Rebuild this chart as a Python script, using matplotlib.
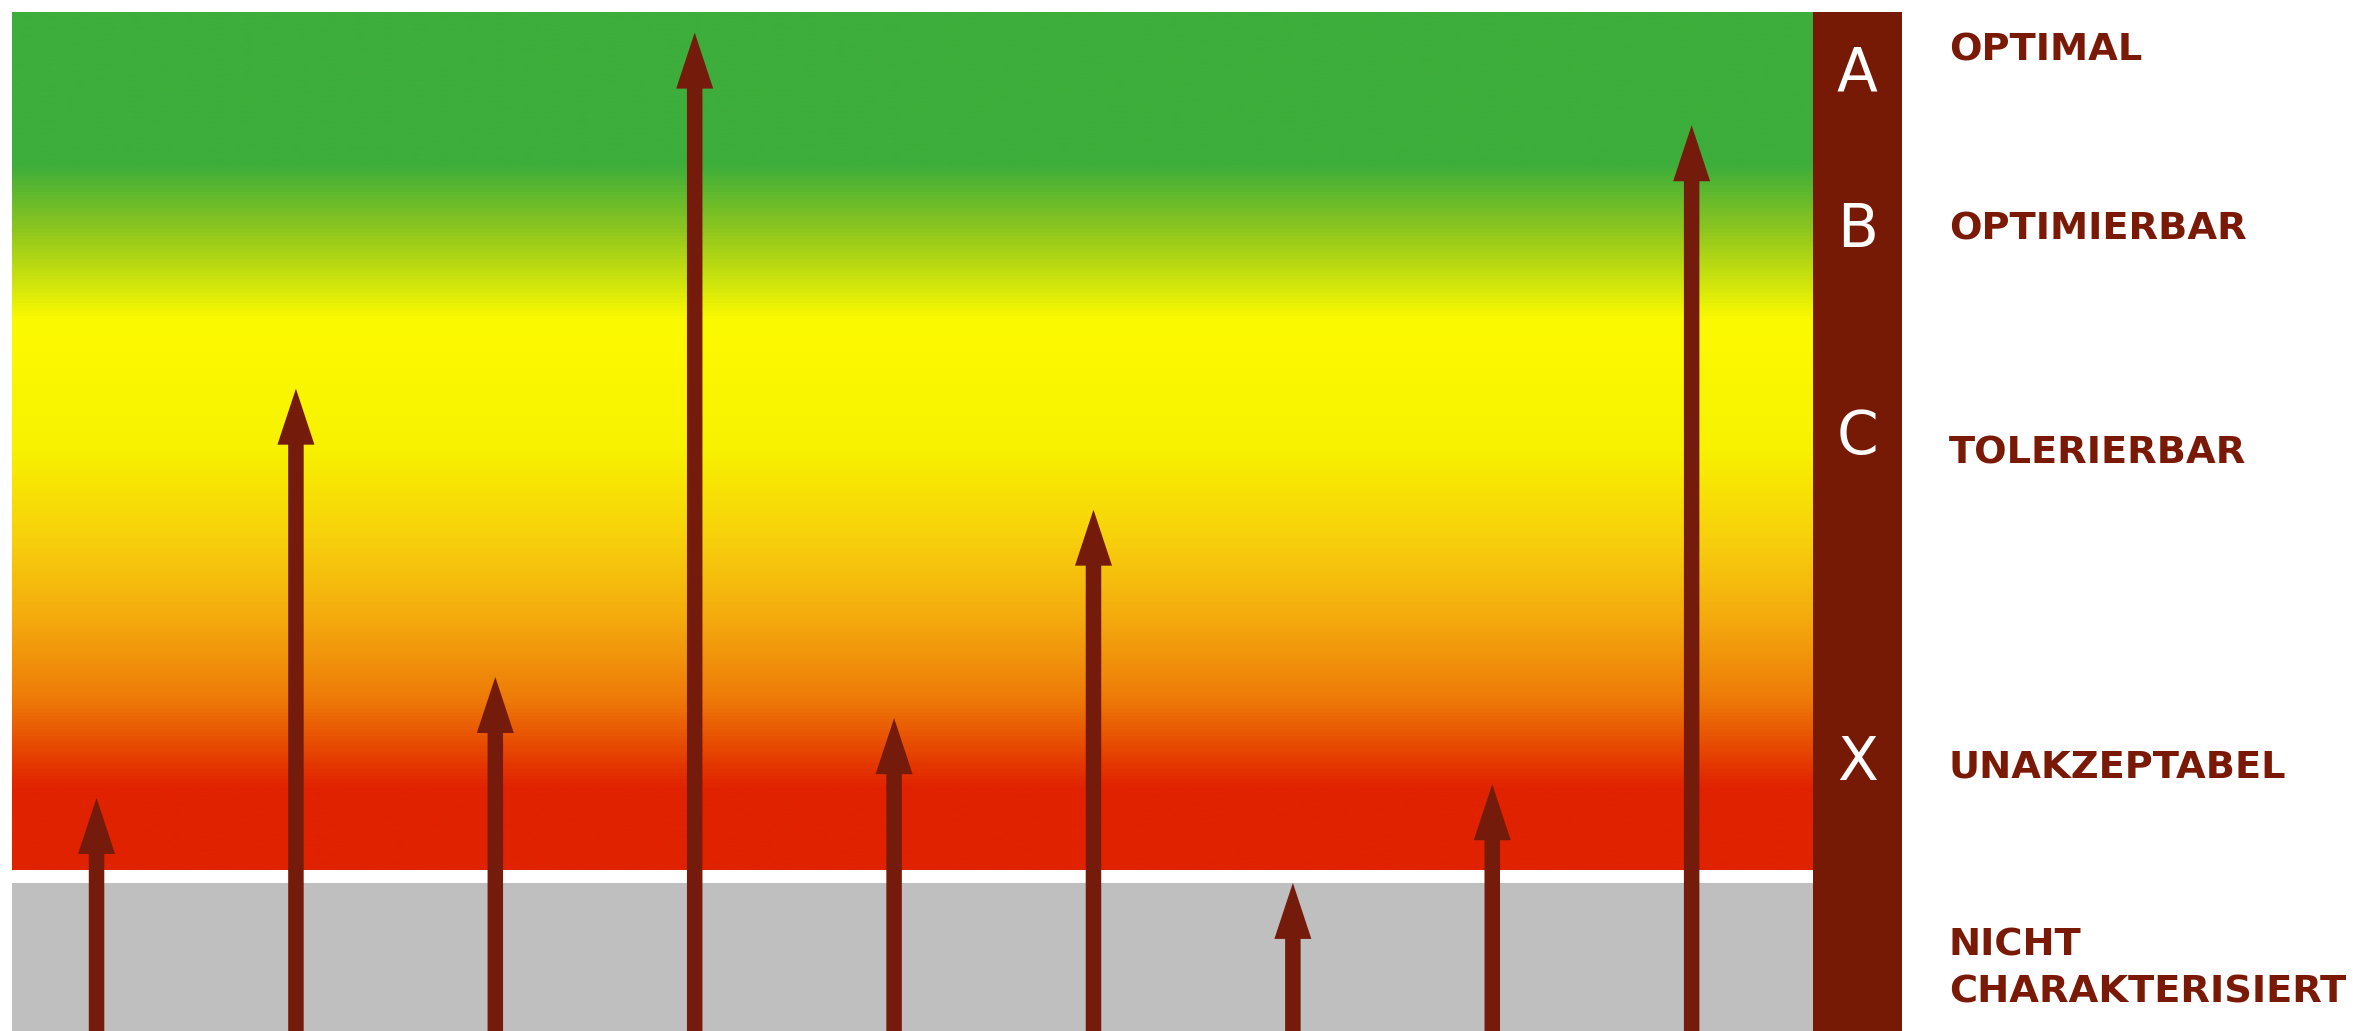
import numpy as np
import matplotlib
matplotlib.use("Agg")
import matplotlib.pyplot as plt
from matplotlib.colors import LinearSegmentedColormap
from matplotlib.patches import Rectangle, FancyArrowPatch, ArrowStyle

# ---------------- data ----------------
items = list(range(9))                       # arrow positions (categories)
scores = [8.4, 56.1, 22.5, 97.6, 17.7, 42.0, -1.5, 10.0, 86.8]   # arrow tip values
grades = ["A", "B", "C", "X"]
grade_baselines = [90.9, 72.6, 48.5, 10.5]
labels = ["OPTIMAL", "OPTIMIERBAR", "TOLERIERBAR", "UNAKZEPTABEL", "NICHT", "CHARAKTERISIERT"]
label_baselines = [94.3, 73.5, 47.4, 10.8, -10.0, -15.4]

# ---------------- style ----------------
W, H, DPI = 2354, 1031, 100
XL, XR = -0.424, 9.055          # data x-limits
GRAD_R = 8.608                  # right edge of gradient / left edge of bar
YB, YT = -18.76, 100.0          # data y-limits
GREY_TOP = -1.515

BROWN = "#761a05"
ARROW = "#751b0b"
TEXTC = "#7a1a06"
GREY = "#bfbfbf"

stops = [(0.0, "#e02200"), (0.093, "#e02200"), (0.117, "#e43400"),
         (0.198, "#ee7a08"), (0.291, "#f4aa0e"), (0.385, "#f7d00c"),
         (0.49, "#f8f200"), (0.641, "#fcfa00"), (0.746, "#8ec61e"),
         (0.822, "#3dae3b"), (1.0, "#3dae3b")]
cmap = LinearSegmentedColormap.from_list("grad", stops)

fig = plt.figure(figsize=(W / DPI, H / DPI), dpi=DPI)
ax = fig.add_axes([12 / W, 0, (1902 - 12) / W, (H - 12) / H])
ax.set_xlim(XL, XR)
ax.set_ylim(YB, YT)
ax.axis("off")

grad = np.linspace(0, 1, 1024).reshape(-1, 1)
ax.imshow(grad, cmap=cmap, origin="lower", aspect="auto",
          extent=[XL, GRAD_R, 0, 100], interpolation="bilinear", zorder=1)
ax.add_patch(Rectangle((XL, YB), GRAD_R - XL, GREY_TOP - YB, color=GREY, lw=0, zorder=1))
ax.add_patch(Rectangle((GRAD_R, YB), XR - GRAD_R, YT - YB, color=BROWN, lw=0, zorder=2))

pt = 72 / DPI
style = ArrowStyle.Simple(head_length=56 * pt, head_width=37 * pt, tail_width=15.5 * pt)
for x, s in zip(items, scores):
    arr = FancyArrowPatch((x, YB - 5), (x, s), arrowstyle=style, mutation_scale=1,
                          shrinkA=0, shrinkB=0, color=ARROW, lw=0, zorder=3)
    ax.add_patch(arr)

xc = (GRAD_R + XR) / 2
for g, b in zip(grades, grade_baselines):
    ax.text(xc, b, g, color="white", fontsize=43, ha="center", va="baseline",
            family="DejaVu Sans", zorder=4)

xl = XR + (1949 - 1902) / 199.4
for t, b in zip(labels, label_baselines):
    ax.text(xl, b, t, color=TEXTC, fontsize=27.6, fontweight="bold", ha="left",
            va="baseline", family="DejaVu Sans", clip_on=False)

fig.savefig("out.png", dpi=DPI, facecolor="white")
